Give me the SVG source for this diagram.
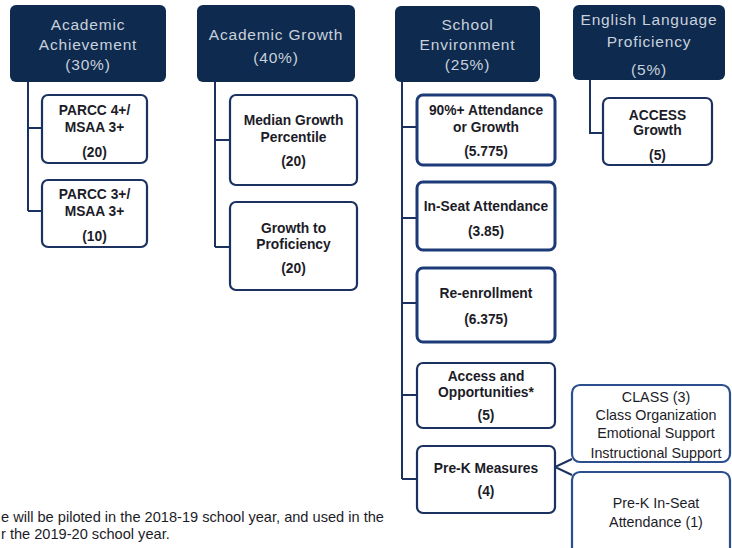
<svg xmlns="http://www.w3.org/2000/svg" width="732" height="548" viewBox="0 0 732 548">
<style>
.hdr{fill:#0e2a4e}
.ht{fill:#c9d1dc;font-family:"Liberation Sans",Arial,sans-serif;font-size:15.5px;text-anchor:middle;letter-spacing:0.8px}
.box{fill:#ffffff;stroke:#1b3160;stroke-width:2.2}
.boxb{fill:#ffffff;stroke:#1d3a78;stroke-width:3}
.boxc{fill:#ffffff;stroke:#2a4f8c;stroke-width:2.2}
.bt{fill:#1c1c28;font-family:"Liberation Sans",Arial,sans-serif;font-size:13.8px;font-weight:bold;text-anchor:middle}
.nt{fill:#1c1c28;font-family:"Liberation Sans",Arial,sans-serif;font-size:14.3px;text-anchor:middle}
.ft{fill:#1c1c28;font-family:"Liberation Sans",Arial,sans-serif;font-size:14.6px}
.con{fill:none;stroke:#1b3160;stroke-width:2}
</style>
<rect width="732" height="548" fill="#ffffff"/>
<g id="connectors">
<path class="con" d="M28,82 V211 M28,128 H42 M28,211 H42"/>
<path class="con" d="M215,82 V247 M215,140 H230 M215,247 H230"/>
<path class="con" d="M402,82 V479 M402,127 H417 M402,218 H417 M402,303 H417 M402,395 H417 M402,479 H417"/>
<path class="con" d="M590,80 V133 H603"/>
<path class="con" stroke="#2a4f8c" d="M572,459 L555,467 L572,475"/>
</g>
<g id="academic-achievement">
<rect class="hdr" x="10" y="5" width="156" height="77" rx="6"/>
<text class="ht" x="88" y="30">Academic</text>
<text class="ht" x="88" y="50">Achievement</text>
<text class="ht" x="88" y="70">(30%)</text>
</g>
<g id="parcc4">
<rect class="box" x="42" y="95" width="105" height="68" rx="6"/>
<text class="bt" x="94.5" y="115">PARCC 4+/</text>
<text class="bt" x="94.5" y="132">MSAA 3+</text>
<text class="bt" x="94.5" y="157">(20)</text>
</g>
<g id="parcc3">
<rect class="box" x="42" y="180" width="105" height="67" rx="6"/>
<text class="bt" x="94.5" y="199">PARCC 3+/</text>
<text class="bt" x="94.5" y="216">MSAA 3+</text>
<text class="bt" x="94.5" y="241">(10)</text>
</g>
<g id="academic-growth">
<rect class="hdr" x="197" y="5" width="158" height="77" rx="6"/>
<text class="ht" x="276" y="40">Academic Growth</text>
<text class="ht" x="276" y="63">(40%)</text>
</g>
<g id="median-growth">
<rect class="box" x="230" y="95" width="127" height="90" rx="6"/>
<text class="bt" x="293.5" y="125">Median Growth</text>
<text class="bt" x="293.5" y="142">Percentile</text>
<text class="bt" x="293.5" y="166">(20)</text>
</g>
<g id="growth-proficiency">
<rect class="box" x="230" y="202" width="127" height="88" rx="6"/>
<text class="bt" x="293.5" y="233">Growth to</text>
<text class="bt" x="293.5" y="249">Proficiency</text>
<text class="bt" x="293.5" y="273">(20)</text>
</g>
<g id="school-environment">
<rect class="hdr" x="395" y="6" width="145" height="76" rx="6"/>
<text class="ht" x="467.5" y="30">School</text>
<text class="ht" x="467.5" y="50">Environment</text>
<text class="ht" x="467.5" y="70">(25%)</text>
</g>
<g id="attendance-growth">
<rect class="boxb" x="417" y="95" width="138" height="70" rx="6"/>
<text class="bt" x="486" y="115">90%+ Attendance</text>
<text class="bt" x="486" y="132">or Growth</text>
<text class="bt" x="486" y="156">(5.775)</text>
</g>
<g id="in-seat">
<rect class="boxb" x="417" y="182" width="138" height="68" rx="6"/>
<text class="bt" x="486" y="211">In-Seat Attendance</text>
<text class="bt" x="486" y="236">(3.85)</text>
</g>
<g id="re-enrollment">
<rect class="boxb" x="417" y="268" width="138" height="74" rx="6"/>
<text class="bt" x="486" y="298">Re-enrollment</text>
<text class="bt" x="486" y="324">(6.375)</text>
</g>
<g id="access-opportunities">
<rect class="box" x="417" y="363" width="138" height="65" rx="6"/>
<text class="bt" x="486" y="381">Access and</text>
<text class="bt" x="486" y="397">Opportunities*</text>
<text class="bt" x="486" y="420">(5)</text>
</g>
<g id="prek-measures">
<rect class="box" x="417" y="446" width="138" height="67" rx="6"/>
<text class="bt" x="486" y="473">Pre-K Measures</text>
<text class="bt" x="486" y="496">(4)</text>
</g>
<g id="english-proficiency">
<rect class="hdr" x="573" y="5" width="152" height="75" rx="6"/>
<text class="ht" x="649" y="25">English Language</text>
<text class="ht" x="649" y="47">Proficiency</text>
<text class="ht" x="649" y="75">(5%)</text>
</g>
<g id="access-growth">
<rect class="box" x="603" y="98" width="109" height="67" rx="6"/>
<text class="bt" x="657.5" y="120">ACCESS</text>
<text class="bt" x="657.5" y="135">Growth</text>
<text class="bt" x="657.5" y="160">(5)</text>
</g>
<g id="class">
<rect class="boxc" x="572" y="385" width="158" height="77" rx="8"/>
<text class="nt" x="656" y="402">CLASS (3)</text>
<text class="nt" x="656" y="420">Class Organization</text>
<text class="nt" x="656" y="438">Emotional Support</text>
<text class="nt" x="656" y="458">Instructional Support</text>
</g>
<g id="prek-in-seat">
<rect class="boxc" x="572" y="472" width="158" height="90" rx="8"/>
<text class="nt" x="656" y="508">Pre-K In-Seat</text>
<text class="nt" x="656" y="527">Attendance (1)</text>
</g>
<g id="footnote">
<text class="ft" x="1" y="522">e will be piloted in the 2018-19 school year, and used in the</text>
<text class="ft" x="1" y="539">r the 2019-20 school year.</text>
</g>
</svg>
